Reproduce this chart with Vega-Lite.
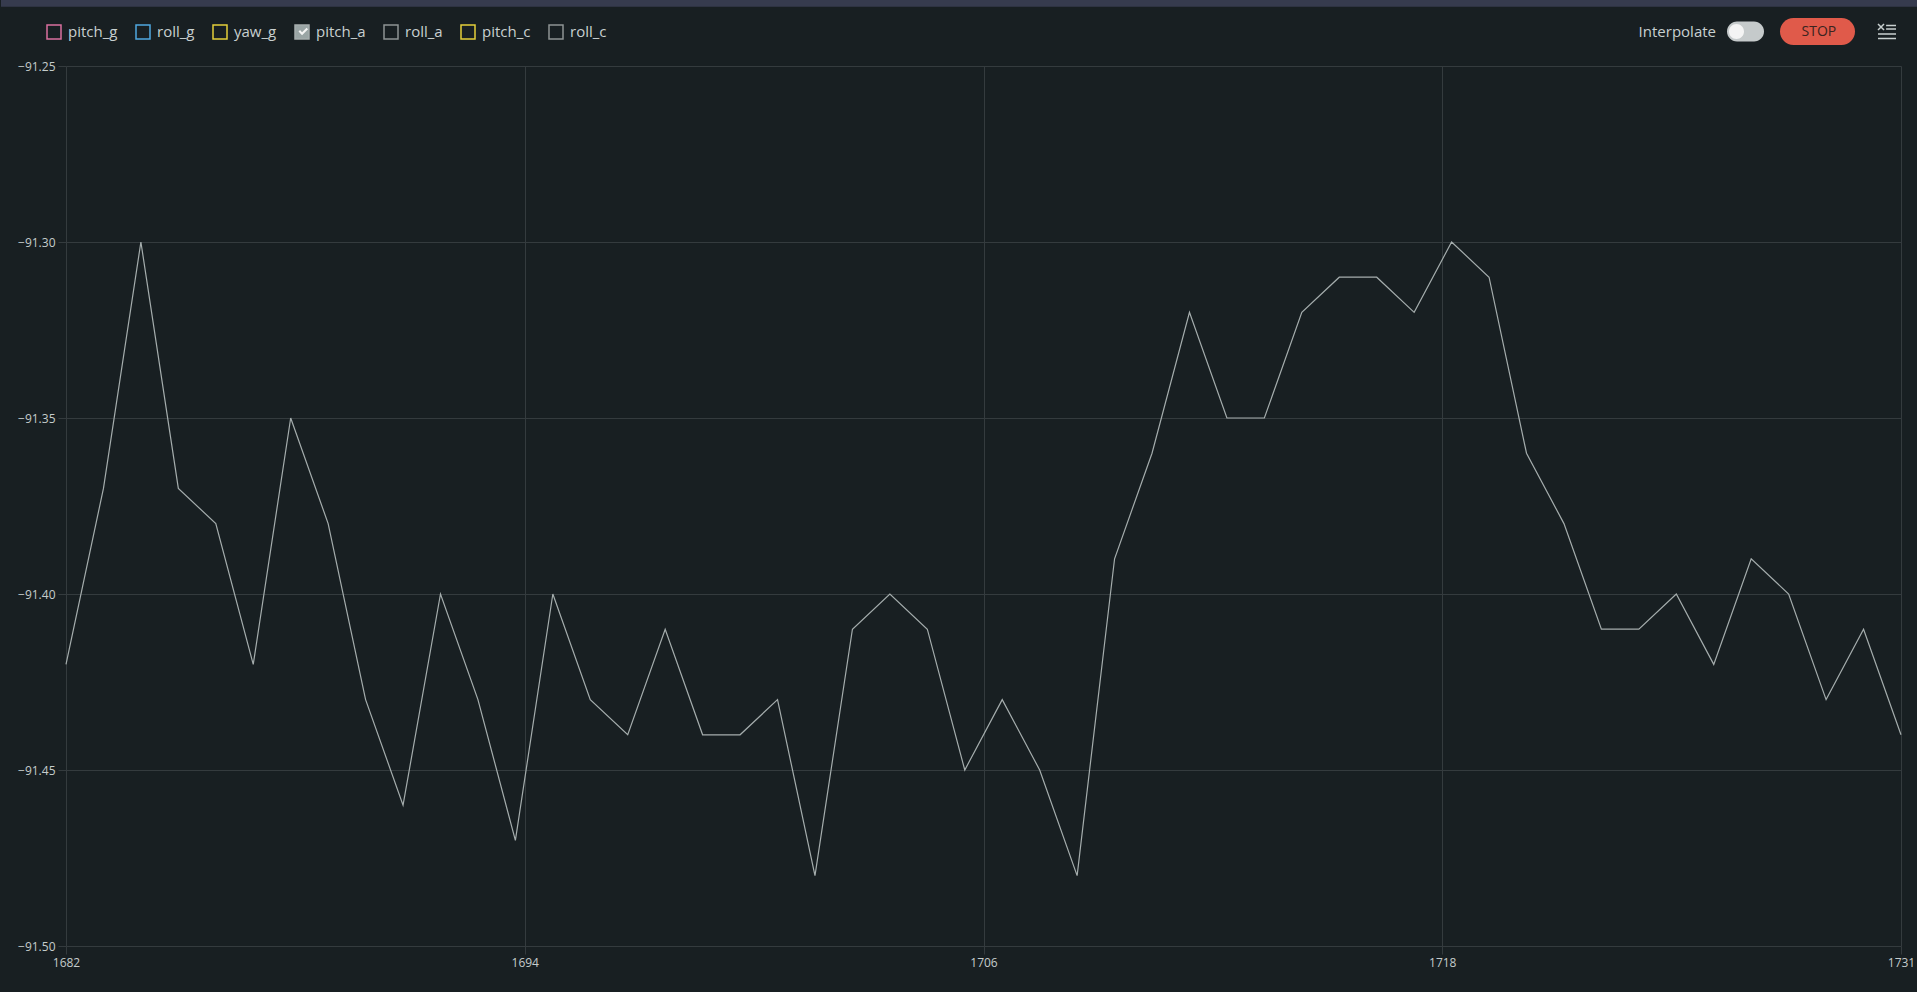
{
  "$schema": "https://vega.github.io/schema/vega-lite/v6.json",
  "width": 1835,
  "height": 880,
  "autosize": {"type": "none"},
  "padding": {"left": 66, "top": 66, "right": 16, "bottom": 46},
  "background": "#181f22",
  "config": {
    "view": {"stroke": null},
    "font": "Open Sans",
    "axis": {
      "grid": true,
      "gridColor": "#343b3e",
      "gridWidth": 1,
      "tickColor": "#343b3e",
      "tickSize": 8,
      "domain": false,
      "labelColor": "#c5cccc",
      "labelFont": "Open Sans",
      "labelFontSize": 12,
      "title": null
    }
  },
  "title": {
    "text": "Interpolate",
    "anchor": "end",
    "frame": "group",
    "orient": "top",
    "dx": -185,
    "offset": -59,
    "fontSize": 15,
    "fontWeight": "normal",
    "font": "Open Sans",
    "color": "#c8d0d0",
    "baseline": "alphabetic"
  },
  "data": {
    "values": [
      {"t": 1682, "v": -91.42, "series": "pitch_a"},
      {"t": 1683, "v": -91.37, "series": "pitch_a"},
      {"t": 1684, "v": -91.30, "series": "pitch_a"},
      {"t": 1685, "v": -91.37, "series": "pitch_a"},
      {"t": 1686, "v": -91.38, "series": "pitch_a"},
      {"t": 1687, "v": -91.42, "series": "pitch_a"},
      {"t": 1688, "v": -91.35, "series": "pitch_a"},
      {"t": 1689, "v": -91.38, "series": "pitch_a"},
      {"t": 1690, "v": -91.43, "series": "pitch_a"},
      {"t": 1691, "v": -91.46, "series": "pitch_a"},
      {"t": 1692, "v": -91.40, "series": "pitch_a"},
      {"t": 1693, "v": -91.43, "series": "pitch_a"},
      {"t": 1694, "v": -91.47, "series": "pitch_a"},
      {"t": 1695, "v": -91.40, "series": "pitch_a"},
      {"t": 1696, "v": -91.43, "series": "pitch_a"},
      {"t": 1697, "v": -91.44, "series": "pitch_a"},
      {"t": 1698, "v": -91.41, "series": "pitch_a"},
      {"t": 1699, "v": -91.44, "series": "pitch_a"},
      {"t": 1700, "v": -91.44, "series": "pitch_a"},
      {"t": 1701, "v": -91.43, "series": "pitch_a"},
      {"t": 1702, "v": -91.48, "series": "pitch_a"},
      {"t": 1703, "v": -91.41, "series": "pitch_a"},
      {"t": 1704, "v": -91.40, "series": "pitch_a"},
      {"t": 1705, "v": -91.41, "series": "pitch_a"},
      {"t": 1706, "v": -91.45, "series": "pitch_a"},
      {"t": 1707, "v": -91.43, "series": "pitch_a"},
      {"t": 1708, "v": -91.45, "series": "pitch_a"},
      {"t": 1709, "v": -91.48, "series": "pitch_a"},
      {"t": 1710, "v": -91.39, "series": "pitch_a"},
      {"t": 1711, "v": -91.36, "series": "pitch_a"},
      {"t": 1712, "v": -91.32, "series": "pitch_a"},
      {"t": 1713, "v": -91.35, "series": "pitch_a"},
      {"t": 1714, "v": -91.35, "series": "pitch_a"},
      {"t": 1715, "v": -91.32, "series": "pitch_a"},
      {"t": 1716, "v": -91.31, "series": "pitch_a"},
      {"t": 1717, "v": -91.31, "series": "pitch_a"},
      {"t": 1718, "v": -91.32, "series": "pitch_a"},
      {"t": 1719, "v": -91.30, "series": "pitch_a"},
      {"t": 1720, "v": -91.31, "series": "pitch_a"},
      {"t": 1721, "v": -91.36, "series": "pitch_a"},
      {"t": 1722, "v": -91.38, "series": "pitch_a"},
      {"t": 1723, "v": -91.41, "series": "pitch_a"},
      {"t": 1724, "v": -91.41, "series": "pitch_a"},
      {"t": 1725, "v": -91.40, "series": "pitch_a"},
      {"t": 1726, "v": -91.42, "series": "pitch_a"},
      {"t": 1727, "v": -91.39, "series": "pitch_a"},
      {"t": 1728, "v": -91.40, "series": "pitch_a"},
      {"t": 1729, "v": -91.43, "series": "pitch_a"},
      {"t": 1730, "v": -91.41, "series": "pitch_a"},
      {"t": 1731, "v": -91.44, "series": "pitch_a"}
    ]
  },
  "layer": [
    {
      "mark": {"type": "line", "strokeWidth": 1.2},
      "encoding": {
        "x": {
          "field": "t",
          "type": "quantitative",
          "scale": {"domain": [1682, 1731], "nice": false, "zero": false},
          "axis": {
            "values": [1682, 1694.25, 1706.5, 1718.75, 1731],
            "labelExpr": "floor(datum.value)",
            "labelPadding": 3,
            "labelFlush": false
          }
        },
        "y": {
          "field": "v",
          "type": "quantitative",
          "scale": {"domain": [-91.5, -91.25], "nice": false, "zero": false},
          "axis": {
            "values": [-91.5, -91.45, -91.4, -91.35, -91.3, -91.25],
            "format": ".2f",
            "labelPadding": 3
          }
        },
        "color": {
          "field": "series",
          "type": "nominal",
          "scale": {
            "domain": ["pitch_g", "roll_g", "yaw_g", "pitch_a", "roll_a", "pitch_c", "roll_c"],
            "range": ["#d9709f", "#4fa8e0", "#e3cf3a", "#a5adad", "#8d9494", "#e3cf3a", "#8d9494"]
          },
          "legend": {
            "orient": "none",
            "legendX": -20,
            "legendY": -42,
            "direction": "horizontal",
            "title": null,
            "padding": 0,
            "symbolType": "square",
            "symbolSize": 196,
            "symbolStrokeWidth": 1.5,
            "labelFontSize": 15,
            "labelFont": "Open Sans",
            "labelColor": "#c8d0d0",
            "labelOffset": 6,
            "columnPadding": 15,
            "encode": {
              "symbols": {
                "update": {
                  "fill": {"signal": "datum.value === 'pitch_a' ? '#9aa5a5' : 'transparent'"},
                  "strokeWidth": {"value": 1.5},
                  "opacity": {"value": 1}
                }
              }
            }
          }
        }
      }
    },
    {
      "transform": [{"filter": "false"}],
      "mark": {"type": "point", "filled": true, "color": "#e05a4a", "strokeWidth": 0},
      "encoding": {
        "x": {"field": "t", "type": "quantitative"},
        "y": {"field": "v", "type": "quantitative"},
        "shape": {
          "datum": "STOP",
          "scale": {"range": ["M-0.64,-0.36L0.64,-0.36A0.36,0.36 0 0 1 0.64,0.36L-0.64,0.36A0.36,0.36 0 0 1 -0.64,-0.36Z"]},
          "legend": {
            "orient": "none",
            "legendX": 1713,
            "legendY": -73,
            "title": null,
            "padding": 0,
            "symbolSize": 5625,
            "symbolFillColor": "#e05a4a",
            "symbolStrokeColor": "transparent",
            "symbolOpacity": 1,
            "labelOffset": -54.5,
            "labelFontSize": 14,
            "labelFont": "Open Sans",
            "labelColor": "#3a2420",
            "encode": {
              "symbols": {
                "update": {
                  "fill": {"value": "#e05a4a"},
                  "opacity": {"value": 1}
                }
              }
            }
          }
        }
      }
    },
    {
      "transform": [{"filter": "false"}],
      "mark": {"type": "point", "filled": true, "color": "#c5cacb", "strokeWidth": 0},
      "encoding": {
        "x": {"field": "t", "type": "quantitative"},
        "y": {"field": "v", "type": "quantitative"},
        "size": {
          "datum": "toggle",
          "type": "nominal",
          "scale": {"type": "point", "range": [1369, 1369]},
          "legend": {
            "orient": "none",
            "legendX": 1660,
            "legendY": -54,
            "title": null,
            "padding": 0,
            "symbolType": "M-0.46,-0.54L0.46,-0.54A0.54,0.54 0 0 1 0.46,0.54L-0.46,0.54A0.54,0.54 0 0 1 -0.46,-0.54Z",
            "symbolFillColor": "#c5cacb",
            "symbolStrokeColor": "transparent",
            "symbolOpacity": 1,
            "labelExpr": "''",
            "encode": {
              "symbols": {
                "update": {
                  "fill": {"value": "#c5cacb"},
                  "size": {"value": 1369},
                  "opacity": {"value": 1}
                }
              }
            }
          }
        }
      }
    },
    {
      "transform": [{"filter": "false"}],
      "mark": {"type": "point", "filled": true, "color": "#f4f4f4", "strokeWidth": 0},
      "encoding": {
        "x": {"field": "t", "type": "quantitative"},
        "y": {"field": "v", "type": "quantitative"},
        "opacity": {
          "datum": "knob",
          "type": "nominal",
          "scale": {"type": "point", "range": [1, 1]},
          "legend": {
            "orient": "none",
            "legendX": 1662,
            "legendY": -43,
            "title": null,
            "padding": 0,
            "symbolType": "M-1,0A1,1 0 1 0 1,0A1,1 0 1 0 -1,0ZM-191.73,0L-191.53,-0.2L-191.26,0.09L-190.66,-0.51L-190.46,-0.31L-191.26,0.49Z",
            "symbolSize": 225,
            "symbolFillColor": "#f4f4f4",
            "symbolStrokeColor": "transparent",
            "symbolOpacity": 1,
            "labelExpr": "''",
            "encode": {
              "symbols": {
                "update": {
                  "fill": {"value": "#f4f4f4"},
                  "opacity": {"value": 1}
                }
              }
            }
          }
        }
      }
    },
    {
      "transform": [{"filter": "false"}],
      "mark": {"type": "point", "filled": false, "color": "#c8d0d0"},
      "encoding": {
        "x": {"field": "t", "type": "quantitative"},
        "y": {"field": "v", "type": "quantitative"},
        "strokeWidth": {
          "datum": "menu",
          "type": "nominal",
          "scale": {"type": "point", "range": [1.5, 1.5]},
          "legend": {
            "orient": "none",
            "legendX": 1811,
            "legendY": -44.5,
            "title": null,
            "padding": 0,
            "symbolType": "M-1,-0.83L-0.33,-0.17M-0.33,-0.83L-1,-0.17M-0.1,-0.67L1,-0.67M-0.1,-0.28L1,-0.28M-1,0.28L1,0.28M-1,0.78L1,0.78",
            "symbolSize": 324,
            "symbolFillColor": "transparent",
            "symbolStrokeColor": "#c8d0d0",
            "symbolOpacity": 1,
            "labelExpr": "''",
            "encode": {
              "symbols": {
                "update": {
                  "fill": {"value": "transparent"},
                  "stroke": {"value": "#c8d0d0"},
                  "strokeWidth": {"value": 1.5},
                  "size": {"value": 324},
                  "opacity": {"value": 1}
                }
              }
            }
          }
        }
      }
    },
    {
      "transform": [{"filter": "false"}],
      "mark": {"type": "point", "filled": true, "color": "#363b4e", "strokeWidth": 0},
      "encoding": {
        "x": {"field": "t", "type": "quantitative"},
        "y": {"field": "v", "type": "quantitative"},
        "strokeDash": {
          "datum": "band",
          "type": "nominal",
          "scale": {"range": [[1, 0]]},
          "legend": {
            "orient": "none",
            "legendX": -66,
            "legendY": -66,
            "title": null,
            "padding": 0,
            "symbolType": "M-1,-3L383,-3L383,0.14L-1,0.14Z",
            "symbolSize": 100,
            "symbolFillColor": "#363b4e",
            "symbolStrokeColor": "transparent",
            "symbolOpacity": 1,
            "labelExpr": "''",
            "labelFontSize": 1,
            "encode": {
              "symbols": {
                "update": {
                  "fill": {"value": "#363b4e"},
                  "stroke": {"value": "transparent"},
                  "size": {"value": 100},
                  "opacity": {"value": 1}
                }
              }
            }
          }
        }
      }
    }
  ]
}
